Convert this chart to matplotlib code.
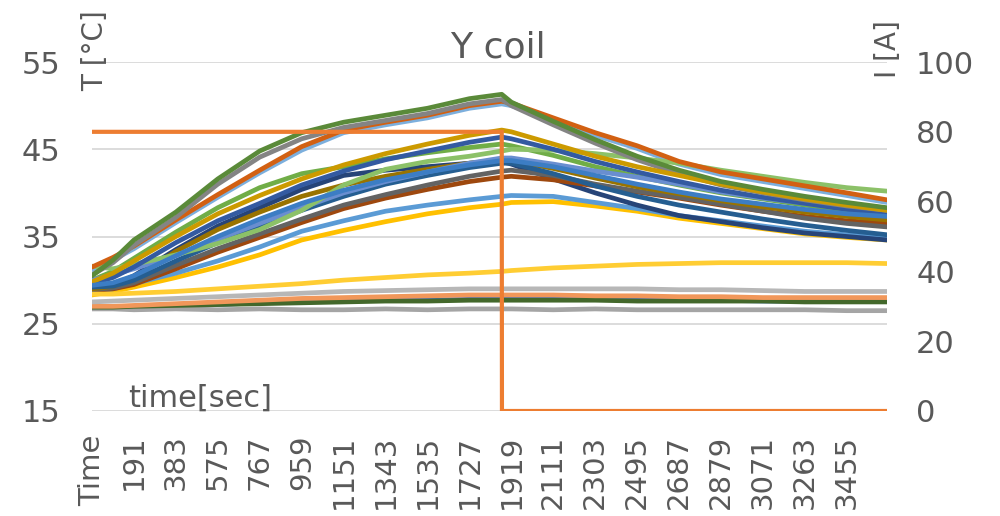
import matplotlib
matplotlib.use('Agg')
import matplotlib.pyplot as plt

# sample points (category index of the logger rows)
t_idx = [0, 96, 192, 384, 576, 768, 960, 1152, 1344, 1536, 1728, 1876,
         1920, 2112, 2304, 2496, 2688, 2880, 3072, 3264, 3456, 3640]

# thermocouple temperatures [degC]
t_blue1 = [26.8, 26.8, 26.9, 27.0, 27.2, 27.4, 27.5, 27.6, 27.7, 27.7, 27.8, 27.8,
           27.8, 27.8, 27.8, 27.7, 27.7, 27.7, 27.6, 27.6, 27.6, 27.6]
t_gray1 = [26.7, 26.7, 26.6, 26.7, 26.6, 26.7, 26.6, 26.6, 26.7, 26.6, 26.7, 26.7,
           26.7, 26.6, 26.7, 26.6, 26.6, 26.6, 26.6, 26.6, 26.5, 26.5]
t_yellow = [28.3, 28.7, 29.2, 30.3, 31.5, 32.9, 34.6, 35.7, 36.7, 37.6, 38.3, 38.7,
            38.9, 39.0, 38.5, 37.9, 37.1, 36.5, 35.9, 35.3, 34.9, 34.6]
t_blue = [28.7, 29.0, 29.6, 30.8, 32.2, 33.8, 35.6, 36.8, 37.9, 38.6, 39.2, 39.6,
          39.7, 39.6, 38.9, 38.2, 37.4, 36.8, 36.2, 35.6, 35.2, 34.9]
t_lgreen = [30.0, 31.0, 32.5, 35.5, 38.3, 40.6, 42.2, 43.0, 43.9, 44.6, 45.2, 45.6,
            45.4, 44.3, 43.0, 41.9, 40.9, 40.0, 39.3, 38.6, 38.0, 37.6]
t_navy = [29.0, 29.4, 30.5, 33.5, 36.2, 38.3, 40.4, 42.0, 42.6, 43.0, 43.4, 43.6,
          43.3, 41.6, 40.0, 38.6, 37.4, 36.7, 36.0, 35.4, 35.0, 34.6]
t_brown = [28.8, 29.0, 29.5, 31.3, 33.2, 34.9, 36.6, 38.2, 39.4, 40.4, 41.3, 41.8,
           41.9, 41.5, 40.8, 40.1, 39.4, 38.6, 37.9, 37.3, 36.8, 36.5]
t_dgray = [28.9, 29.1, 29.7, 31.7, 33.6, 35.3, 37.0, 38.6, 39.8, 40.9, 41.9, 42.5,
           42.6, 42.0, 41.0, 40.2, 39.5, 38.7, 37.9, 37.1, 36.5, 36.1]
t_dgold = [29.0, 29.3, 30.2, 33.3, 35.8, 37.8, 39.6, 40.9, 41.9, 42.7, 43.4, 43.8,
           43.7, 42.8, 41.7, 40.7, 39.9, 39.1, 38.4, 37.8, 37.3, 36.9]
t_teal = [29.2, 29.3, 30.0, 32.2, 34.3, 36.3, 38.0, 39.6, 41.0, 42.0, 42.9, 43.4,
          43.4, 42.2, 40.8, 39.6, 38.6, 37.8, 37.0, 36.3, 35.7, 35.2]
t_dgreen = [26.9, 26.9, 27.0, 27.1, 27.2, 27.3, 27.4, 27.5, 27.6, 27.6, 27.7, 27.7,
            27.7, 27.7, 27.7, 27.6, 27.6, 27.6, 27.6, 27.5, 27.5, 27.5]
t_peri = [30.0, 30.6, 31.3, 32.8, 34.7, 36.5, 38.3, 40.0, 41.3, 42.4, 43.4, 44.0,
          44.0, 43.3, 42.5, 41.8, 41.0, 40.1, 39.4, 38.8, 38.3, 37.9]
t_salmon = [27.0, 27.0, 27.1, 27.3, 27.5, 27.7, 27.9, 28.0, 28.1, 28.2, 28.3, 28.3,
            28.3, 28.3, 28.2, 28.2, 28.1, 28.1, 28.0, 28.0, 28.0, 28.0]
t_lgray = [27.5, 27.6, 27.7, 27.9, 28.1, 28.3, 28.5, 28.7, 28.8, 28.9, 29.0, 29.0,
           29.0, 29.0, 29.0, 29.0, 28.9, 28.9, 28.8, 28.7, 28.7, 28.7]
t_lyellow = [28.4, 28.4, 28.5, 28.7, 29.0, 29.3, 29.6, 30.0, 30.3, 30.6, 30.8, 31.0,
             31.1, 31.4, 31.6, 31.8, 31.9, 32.0, 32.0, 32.0, 32.0, 31.9]
t_ltblue = [31.2, 32.3, 33.6, 36.6, 39.5, 42.3, 44.9, 46.9, 47.8, 48.6, 49.7, 50.2,
            50.0, 48.3, 46.6, 45.1, 43.3, 42.1, 41.3, 40.5, 39.7, 38.9]
t_lgreen2 = [31.6, 31.3, 31.8, 32.9, 34.2, 35.8, 38.0, 40.9, 42.7, 43.6, 44.2, 44.8,
             45.0, 44.9, 44.5, 44.0, 43.4, 42.6, 41.9, 41.2, 40.6, 40.2]
t_blue2 = [29.6, 30.3, 31.5, 34.3, 36.8, 38.8, 40.9, 42.5, 43.8, 44.8, 45.8, 46.4,
           46.2, 45.0, 43.6, 42.4, 41.3, 40.3, 39.5, 38.8, 38.1, 37.5]
t_orange = [31.5, 32.6, 33.9, 36.9, 39.8, 42.6, 45.3, 47.2, 48.1, 48.9, 50.0, 50.5,
            50.3, 48.6, 46.9, 45.4, 43.6, 42.4, 41.6, 40.8, 40.0, 39.2]
t_gray = [30.6, 32.0, 34.0, 37.2, 41.0, 44.1, 46.2, 47.5, 48.3, 49.1, 50.2, 50.7,
          50.0, 47.8, 45.7, 43.8, 42.2, 40.9, 40.0, 39.2, 38.5, 38.0]
t_gold = [29.8, 30.8, 32.2, 35.0, 37.6, 39.7, 41.6, 43.2, 44.5, 45.6, 46.6, 47.2,
          47.0, 45.6, 44.2, 43.0, 42.0, 41.0, 40.1, 39.3, 38.6, 38.0]
t_mblue = [29.4, 29.7, 30.5, 32.8, 35.0, 37.0, 38.8, 40.3, 41.5, 42.4, 43.2, 43.7,
           43.7, 43.0, 42.0, 41.0, 40.1, 39.3, 38.7, 38.1, 37.6, 37.3]
t_green = [30.5, 32.3, 34.6, 37.8, 41.6, 44.8, 46.9, 48.1, 48.9, 49.7, 50.8, 51.3,
           50.4, 48.2, 46.1, 44.2, 42.6, 41.3, 40.4, 39.6, 38.9, 38.3]

# coil current [A]
current_idx = [0, 1876, 1877, 3640]
current_a = [80, 80, 0, 0]

# x tick labels every 192 rows
xtick_pos = [0, 192, 384, 576, 768, 960, 1152, 1344, 1536, 1728, 1920,
             2112, 2304, 2496, 2688, 2880, 3072, 3264, 3456]
xtick_labels = ['Time', '191', '383', '575', '767', '959', '1151', '1343',
                '1535', '1727', '1919', '2111', '2303', '2495', '2687',
                '2879', '3071', '3263', '3455']

# drawing order = series order in the sheet
series = [
    (t_blue1, '#4472C4'), (t_gray1, '#A5A5A5'), (t_yellow, '#FFC000'),
    (t_blue, '#5B9BD5'), (t_lgreen, '#70AD47'), (t_navy, '#264478'),
    (t_brown, '#9E480E'), (t_dgray, '#636363'), (t_dgold, '#997300'),
    (t_teal, '#255E91'), (t_dgreen, '#43682B'), (t_peri, '#698ED0'),
    (t_salmon, '#F1975A'), (t_lgray, '#B7B7B7'), (t_lyellow, '#FFCD33'),
    (t_ltblue, '#7CAFDD'), (t_lgreen2, '#8CC168'), (t_blue2, '#335AA1'),
    (t_orange, '#D26012'), (t_gray, '#848484'), (t_gold, '#CC9A00'),
    (t_mblue, '#3C7DC4'), (t_green, '#5A8A39'),
]

txt = '#595959'
fs = 22

fig = plt.figure(figsize=(10, 5.16), dpi=100)
ax = fig.add_axes([0.092, 0.2035, 0.795, 0.6763])

for vals, col in series:
    ax.plot(t_idx, vals, color=col, lw=3.4, solid_joinstyle='round',
            solid_capstyle='round')

ax.set_xlim(0, 3640)
ax.set_ylim(15, 55)
ax.set_yticks([15, 25, 35, 45, 55])
ax.grid(axis='y', color='#D9D9D9', lw=1.3)
ax.set_axisbelow(True)
ax.set_xticks(xtick_pos)
ax.set_xticklabels(xtick_labels, rotation=90, va='top', ha='center')
ax.tick_params(axis='x', length=0, pad=17, labelsize=21, labelcolor=txt)
ax.tick_params(axis='y', length=0, pad=23, labelsize=fs, labelcolor=txt)
for s in ax.spines.values():
    s.set_visible(False)

ax2 = ax.twinx()
ax2.plot(current_idx, current_a, color='#ED7D31', lw=3.0,
         solid_joinstyle='miter')
ax2.set_ylim(0, 100)
ax2.set_yticks([0, 20, 40, 60, 80, 100])
ax2.tick_params(axis='y', length=0, pad=21, labelsize=fs, labelcolor=txt)
for s in ax2.spines.values():
    s.set_visible(False)

fig.text(0.498, 1 - 48 / 516, 'Y coil', ha='center', va='center',
         fontsize=26, color=txt)
fig.text(0.095, 1 - 51 / 516, 'T [°C]', rotation=90, ha='center',
         va='center', fontsize=20, color=txt)
fig.text(0.888, 1 - 49 / 516, 'I [A]', rotation=90, ha='center',
         va='center', fontsize=20, color=txt)
fig.text(0.2, 1 - 398 / 516, 'time[sec]', ha='center', va='center',
         fontsize=fs, color=txt)

fig.savefig('out.png', dpi=100)
